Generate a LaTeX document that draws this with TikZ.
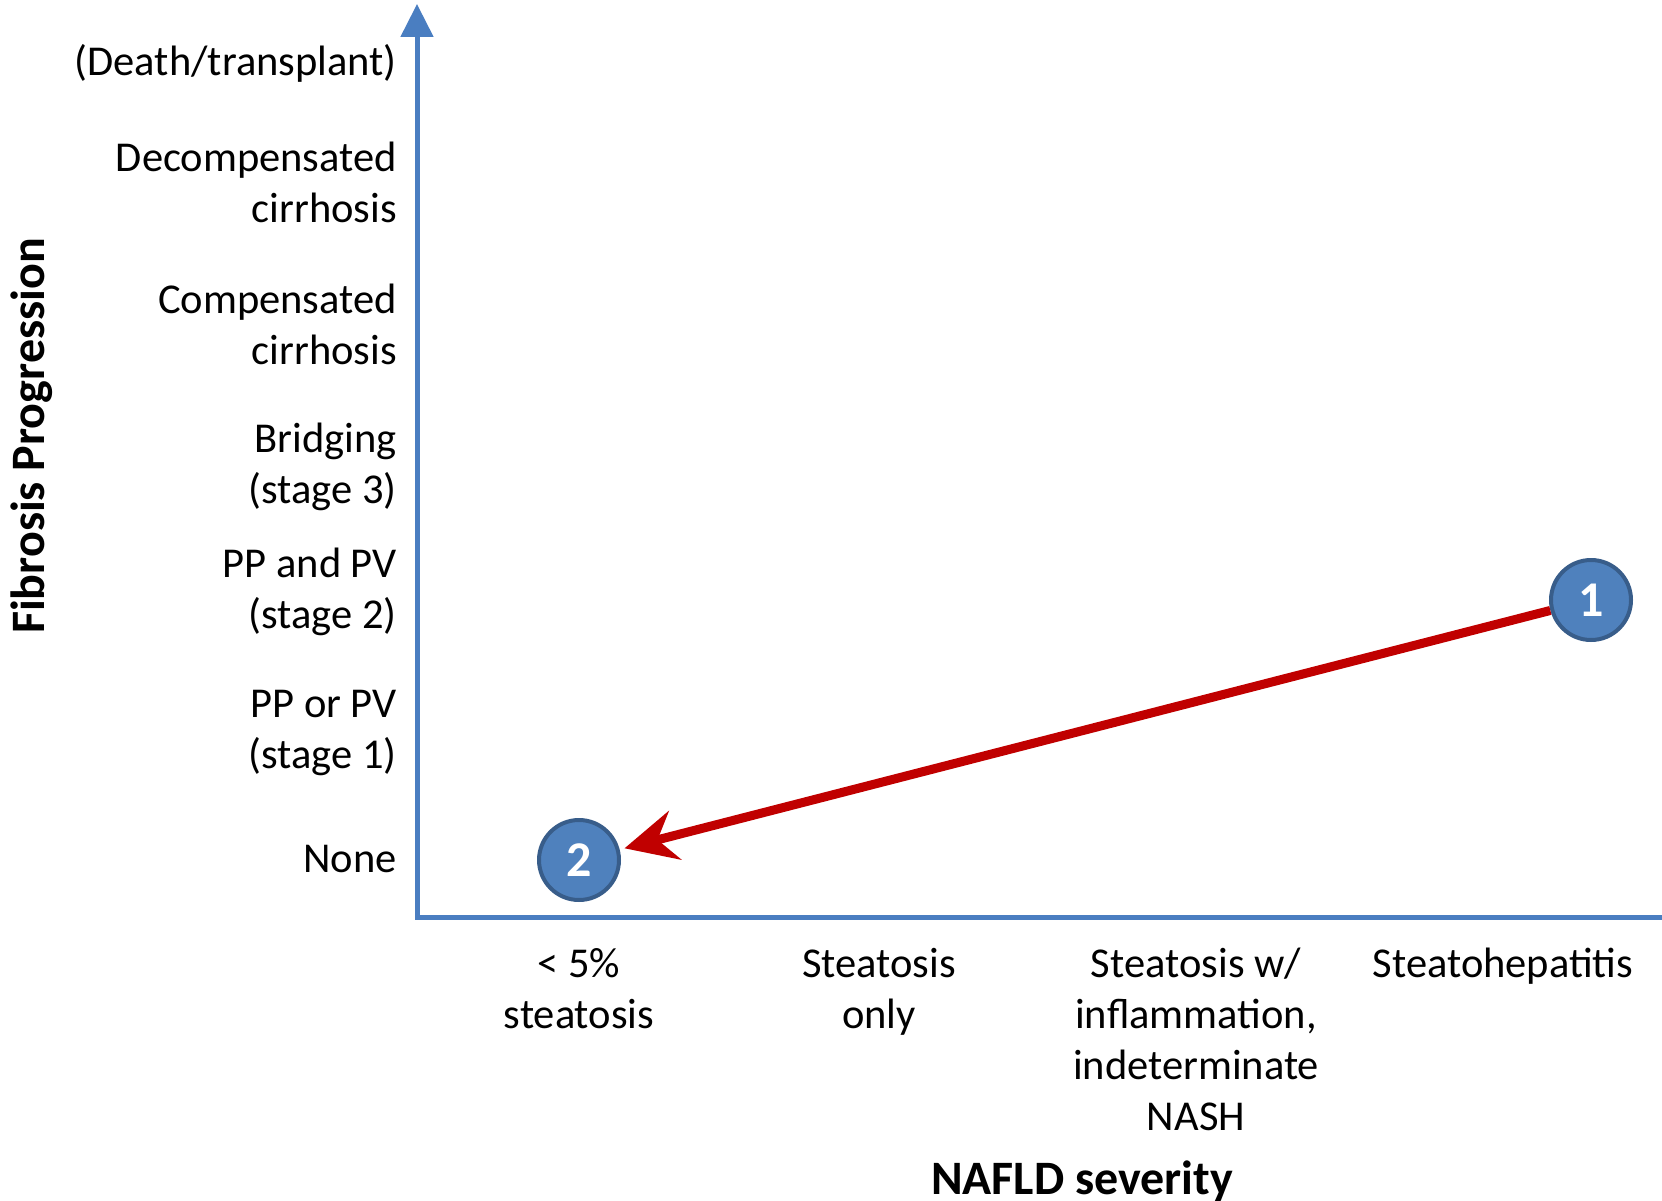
\documentclass[tikz,border=0pt]{standalone}
\usepackage{fontspec}
\setmainfont{Carlito}
\usetikzlibrary{arrows.meta}

\definecolor{axisblue}{RGB}{74,126,193}
\definecolor{ballblue}{RGB}{79,129,189}
\definecolor{balledge}{RGB}{56,93,138}
\definecolor{arrowred}{RGB}{192,0,0}

\begin{document}
\begin{tikzpicture}
  [x=1pt,y=-1pt,
   every node/.style={inner sep=0pt,font=\fontsize{42.5}{51}\selectfont},
   ylab/.style={anchor=east,align=right},
   xlab/.style={anchor=north,align=center},
   axis/.style={draw=axisblue,line width=5pt},
   ball/.style={circle,fill=ballblue,draw=balledge,line width=4pt,minimum size=80pt,
     text=white,font=\fontsize{50}{50}\selectfont\bfseries},
   trend/.style={draw=arrowred,line width=9pt,shorten >=5pt,
     -{Stealth[length=52pt,width=50pt,inset=18pt]}}]
  \useasboundingbox (0,0) rectangle (1662,1201);

  % axes
  \coordinate (orig) at (417,917);
  \coordinate (ytop) at (417,4);
  \coordinate (xend) at (1662,917);
  \draw[axis,-{Triangle[length=33pt,width=32pt]}] (xend) -- (orig) -- (ytop);

  % fibrosis stages
  \node[ylab] (f6) at (397,63)  {(Death/transplant)};
  \node[ylab] (f5) at (397,182) {Decompensated\\cirrhosis};
  \node[ylab] (f4) at (397,324) {Compensated\\cirrhosis};
  \node[ylab] (f3) at (397,467) {Bridging\\(stage 3)};
  \node[ylab] (f2) at (397,592) {PP and PV\\(stage 2)};
  \node[ylab] (f1) at (397,733) {PP or PV\\(stage 1)};
  \node[ylab] (f0) at (397,859) {None};
  \node[rotate=90,font=\fontsize{48}{50}\selectfont\bfseries] (ytitle) at (32,436)
    {Fibrosis Progression};

  % nafld severity
  \node[xlab] (s1) at (579,948)  {< 5\%\\steatosis};
  \node[xlab] (s2) at (879,948)  {Steatosis\\only};
  \node[xlab] (s3) at (1196,948) {Steatosis w/\\inflammation,\\indeterminate\\NASH};
  \node[xlab] (s4) at (1503,948) {Steatohepatitis};
  \node[font=\fontsize{48}{50}\selectfont\bfseries] (xtitle) at (1082,1181)
    {NAFLD severity};

  % patient course
  \node[ball] (n1) at (1591,600) {1};
  \node[ball] (n2) at (579,860) {2};
  \draw[trend] (n1) -- (n2);

\end{tikzpicture}
\end{document}
